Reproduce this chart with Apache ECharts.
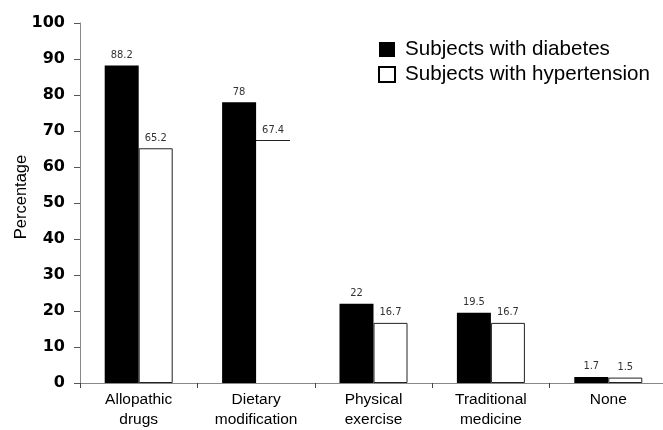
<!DOCTYPE html>
<html>
<head>
<meta charset="utf-8">
<script src="https://cdn.jsdelivr.net/npm/echarts@6/dist/echarts.min.js"></script>
<style>
  html, body { margin: 0; padding: 0; background: #fff; }
  #chart { width: 663px; height: 430px; }
</style>
</head>
<body>
<div id="chart"></div>
<script>
// Treatment methods reported by each group (%)
const categories = ['Allopathic\ndrugs', 'Dietary\nmodification', 'Physical\nexercise', 'Traditional\nmedicine', 'None'];
const diabetes = [88.2, 78, 22, 19.5, 1.7];
const hypertension = [65.2, 67.4, 16.7, 16.7, 1.5];
// hypertension bars drawn only by their top edge
const topEdgeOnly = [1];
const yTicks = { min: 0, max: 100, interval: 10 };

const BAR_W = 34;
const labelFont = {
  fontFamily: '"Liberation Sans Narrow", "DejaVu Sans Condensed", sans-serif',
  fontSize: 11,
  color: '#333'
};
const sans = 'Arial, "Liberation Sans", Helvetica, sans-serif';

const chart = echarts.init(document.getElementById('chart'), null, { renderer: 'canvas' });

const hyperData = hypertension.map((v, i) => {
  if (topEdgeOnly.includes(i)) {
    return { value: v, itemStyle: { color: 'rgba(0,0,0,0)', borderColor: 'rgba(0,0,0,0)', borderWidth: 0 } };
  }
  return v;
});

chart.setOption({
  animation: false,
  backgroundColor: '#fff',
  grid: { left: 80, top: 23, bottom: 47, right: -4, containLabel: false, outerBoundsMode: 'none' },
  legend: {
    orient: 'vertical',
    left: 378,
    top: 39,
    padding: 0,
    itemWidth: 16,
    itemHeight: 15,
    itemGap: 4,
    textStyle: {
      fontFamily: sans,
      fontSize: 20.6,
      lineHeight: 20,
      color: '#000',
      padding: [0, 0, 0, 5]
    },
    data: [
      { name: 'Subjects with diabetes', icon: 'rect', itemStyle: { color: '#000', borderWidth: 0 } },
      { name: 'Subjects with hypertension', icon: 'rect', itemStyle: { color: '#fff', borderColor: '#000', borderWidth: 2 } }
    ]
  },
  xAxis: {
    type: 'category',
    data: categories,
    axisLine: { show: true, lineStyle: { color: '#888', width: 1 } },
    axisTick: { show: true, length: 5, inside: false, lineStyle: { color: '#444' } },
    axisLabel: {
      margin: 7,
      fontFamily: sans,
      fontSize: 15.5,
      lineHeight: 20,
      color: '#000',
      interval: 0
    }
  },
  yAxis: {
    type: 'value',
    min: yTicks.min,
    max: yTicks.max,
    interval: yTicks.interval,
    name: 'Percentage',
    nameLocation: 'middle',
    nameGap: 50,
    nameMoveOverlap: false,
    nameTextStyle: {
      fontFamily: sans,
      fontSize: 16.5,
      color: '#000',
      padding: [0, 0, 0, 12]
    },
    axisLine: { show: true, lineStyle: { color: '#888', width: 1 } },
    axisTick: { show: true, length: 6, inside: false, lineStyle: { color: '#555' } },
    splitLine: { show: false },
    axisLabel: {
      margin: 15,
      fontFamily: '"DejaVu Sans", Arial, sans-serif',
      fontSize: 16,
      fontWeight: 'bold',
      color: '#000',
      padding: [3, 0, 0, 0]
    }
  },
  series: [
    {
      name: 'Subjects with diabetes',
      type: 'bar',
      data: diabetes,
      barWidth: BAR_W,
      barGap: '0%',
      itemStyle: { color: '#000' },
      label: { show: true, position: 'top', distance: 5, ...labelFont }
    },
    {
      name: 'Subjects with hypertension',
      type: 'bar',
      data: hyperData,
      barWidth: BAR_W,
      barGap: '0%',
      itemStyle: { color: '#fff', borderColor: '#222', borderWidth: 1 },
      label: { show: true, position: 'top', distance: 5, ...labelFont }
    },
    {
      // top edge of the open-sided hypertension bars
      name: 'topEdge',
      type: 'custom',
      silent: true,
      data: topEdgeOnly.map(i => [i, hypertension[i]]),
      renderItem: function (params, api) {
        const p = api.coord([api.value(0), api.value(1)]);
        const x = Math.round(p[0]);
        const y = Math.round(p[1]) + 0.5;
        return {
          type: 'line',
          shape: { x1: x, y1: y, x2: x + BAR_W, y2: y },
          style: { stroke: '#222', lineWidth: 1 }
        };
      }
    }
  ]
});
</script>
</body>
</html>
